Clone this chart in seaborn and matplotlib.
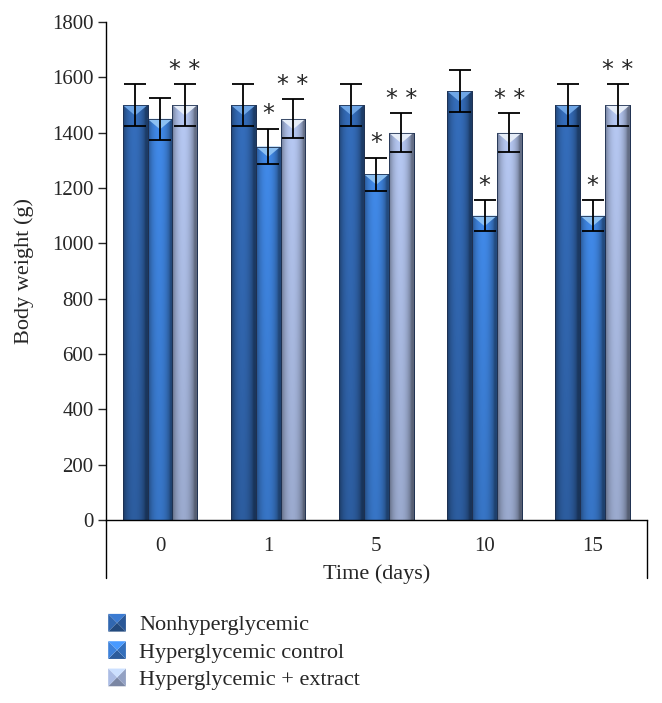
import numpy as np
import pandas as pd
import matplotlib
matplotlib.use("Agg")
import matplotlib.pyplot as plt
import matplotlib.colors as mcolors
from matplotlib.patches import Polygon
from matplotlib.legend_handler import HandlerBase
import seaborn as sns


# Data
days = ["0", "1", "5", "10", "15"]
groups = ["Nonhyperglycemic", "Hyperglycemic control", "Hyperglycemic + extract"]

nonhyper = [1500, 1500, 1500, 1550, 1500]
nonhyper_err = [75, 75, 75, 75, 75]
hyper_ctrl = [1450, 1350, 1250, 1100, 1100]
hyper_ctrl_err = [75, 65, 60, 55, 55]
hyper_ext = [1500, 1450, 1400, 1400, 1500]
hyper_ext_err = [75, 70, 70, 70, 75]

stars_ctrl = ["", "*", "*", "*", "*"]
stars_ext = ["* *", "* *", "* *", "* *", "* *"]

colors = ["#2F62A8", "#3A7BD0", "#A3B3D9"]
top_colors = ["#6FA6E6", "#8CC0F2", "#E6EDF8"]

df = pd.DataFrame({"Day": days,
                   groups[0]: nonhyper,
                   groups[1]: hyper_ctrl,
                   groups[2]: hyper_ext})
long_df = df.melt(id_vars="Day", var_name="Group", value_name="Weight")

errs = [nonhyper_err, hyper_ctrl_err, hyper_ext_err]
stars = [[""] * 5, stars_ctrl, stars_ext]

sns.set_style("white")
plt.rcParams["font.family"] = ["Liberation Serif", "DejaVu Serif"]

fig = plt.figure(figsize=(6.62, 7.03), dpi=100)
ax = fig.add_axes([0.160, 0.2603, 0.817, 0.7084])

sns.barplot(data=long_df, x="Day", y="Weight", hue="Group", order=days,
            hue_order=groups, palette=colors, width=0.69, errorbar=None,
            edgecolor="#1E3050", linewidth=0.6, legend=False, ax=ax)

# shaded "3D" look on each bar
nx = 40
t = np.linspace(0, 1, nx)
profile = 0.62 + 0.5 * np.sin(np.pi * np.clip(t * 1.1, 0, 1)) ** 0.6
bar_containers = list(ax.containers)
for gi, cont in enumerate(bar_containers):
    base = np.array(mcolors.to_rgb(colors[gi]))
    for di, bar in enumerate(cont):
        x0, w, h = bar.get_x(), bar.get_width(), bar.get_height()
        vert = np.linspace(0.85, 1.0, 30)[:, None]
        img = np.clip(base[None, None, :] * profile[None, :, None] * vert[:, :, None], 0, 1)
        im = ax.imshow(img, extent=[x0, x0 + w, 0, h], origin="lower",
                       aspect="auto", zorder=bar.get_zorder() + 0.1, interpolation="bilinear")
        im.set_clip_path(bar)
        tri = Polygon([(x0, h), (x0 + w, h), (x0 + w / 2, h - 38)], closed=True,
                      facecolor=top_colors[gi], edgecolor="none",
                      zorder=bar.get_zorder() + 0.2)
        ax.add_patch(tri)
        ax.add_patch(plt.Rectangle((x0, 0), w, h, fill=False, edgecolor="#1E3050",
                                   linewidth=0.6, zorder=bar.get_zorder() + 0.3))
        cx = x0 + w / 2
        ax.errorbar(cx, h, yerr=errs[gi][di], color="black", capsize=8,
                    elinewidth=1.3, capthick=1.3, zorder=5)
        if stars[gi][di]:
            ax.text(cx, h + errs[gi][di] + 8, stars[gi][di], ha="center", va="bottom",
                    fontsize=17, family="DejaVu Sans", zorder=6)

ax.set_xlim(-0.5, 4.5)
ax.set_ylim(0, 1800)
ax.set_yticks(range(0, 1801, 200))
ax.tick_params(axis="y", direction="out", length=6, width=1, labelsize=15, pad=3, left=True)
ax.tick_params(axis="x", length=0, labelsize=15, pad=12)
for s in ["top", "right"]:
    ax.spines[s].set_visible(False)
for s in ["left", "bottom"]:
    ax.spines[s].set_color("black")
    ax.spines[s].set_linewidth(1)

ax.set_xlabel("Time (days)", fontsize=16, labelpad=6)
ax.set_ylabel("Body weight (g)", fontsize=16, labelpad=13)

# box lines under the axis
for xx in [0, 1]:
    ax.plot([xx, xx], [0, -0.117], transform=ax.transAxes, clip_on=False,
            color="black", lw=1)


class PyramidHandler(HandlerBase):
    def create_artists(self, legend, orig_handle, xdescent, ydescent, width, height, fontsize, trans):
        c = np.array(mcolors.to_rgb(orig_handle.get_facecolor()))
        s = min(width, height) * 1.0
        x0, y0 = -xdescent, -ydescent + (height - s) / 2
        cx, cy = x0 + s / 2, y0 + s / 2
        pts = [(x0, y0), (x0 + s, y0), (x0 + s, y0 + s), (x0, y0 + s)]
        shades = [0.75, 0.9, 1.25, 1.05]
        arts = []
        for k in range(4):
            p = Polygon([pts[k], pts[(k + 1) % 4], (cx, cy)], closed=True,
                        facecolor=np.clip(c * shades[k], 0, 1), edgecolor="none",
                        transform=trans)
            arts.append(p)
        return arts


handles = [plt.Rectangle((0, 0), 1, 1, facecolor=c) for c in colors]
fig.legend(handles, groups, loc="upper left", bbox_to_anchor=(0.150, 1 - 605 / 703),
           frameon=False, fontsize=16, handlelength=0.85, handleheight=0.85,
           handletextpad=0.55, labelspacing=0.26, borderaxespad=0,
           handler_map={plt.Rectangle: PyramidHandler()})

fig.savefig("out.png", dpi=100)
